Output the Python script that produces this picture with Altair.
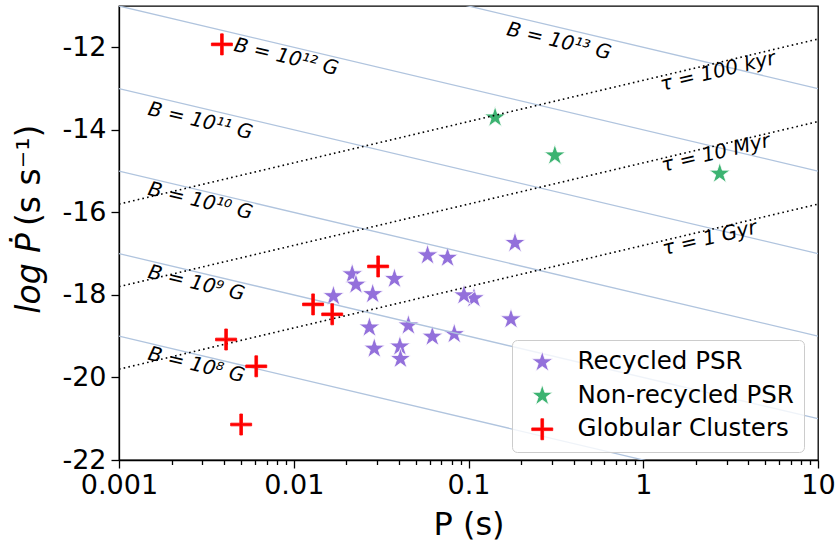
import math
import altair as alt
import pandas as pd

# ---- pulsar samples: spin period P (s) and log10 of Pdot (s/s) ----
rec_P = [0.1845, 0.0583, 0.0759, 0.0216, 0.0227, 0.0377, 0.01687, 0.0283, 0.1075,
         0.0942, 0.175, 0.0271, 0.0453, 0.0621, 0.0829, 0.0289, 0.0405, 0.0408]
rec_L = [-16.74, -17.04, -17.10, -17.50, -17.75, -17.61, -18.03, -17.98, -18.08,
         -18.01, -18.59, -18.79, -18.74, -19.01, -18.95, -19.30, -19.25, -19.55]

nonrec_P = [0.142, 0.312, 2.74]
nonrec_L = [-13.70, -14.62, -15.06]

gc_P = [0.00388, 0.0304, 0.0129, 0.0166, 0.0041, 0.0061, 0.0050]
gc_L = [-11.93, -17.31, -18.23, -18.47, -19.08, -19.73, -21.14]

groups = ["Recycled PSR", "Non-recycled PSR", "Globular Clusters"]
fills = ["#9370DB", "#3CB371", "#FF0000"]
strokes = ["#FFFFFF", "#FFFFFF", "#FF0000"]

# ---- reference lines: constant field B and constant characteristic age ----
B_exp = [8, 9, 10, 11, 12, 13]
tau_years = [1e5, 1e7, 1e9]
tau_names = ["100 kyr", "10 Myr", "1 Gyr"]
P_ends = [0.001, 10.0]
YEAR = 3.156e7

# label anchor points (centre of each text)
B_lab_P = [0.00277, 0.00277, 0.00292, 0.00292, 0.00905, 0.329]
B_lab_L = [-19.70, -17.72, -15.73, -13.79, -12.24, -11.86]
tau_lab_P = [2.67, 2.60, 2.40]
tau_lab_L = [-12.59, -14.57, -16.63]

SUP = str.maketrans("0123456789-", "⁰¹²³⁴⁵⁶⁷⁸⁹⁻")

STAR = ("M0,-1.32L0.296,-0.408L1.255,-0.408L0.480,0.156L0.776,1.068L0,0.504"
        "L-0.776,1.068L-0.480,0.156L-1.255,-0.408L-0.296,-0.408Z")
PLUS = ("M-1.25,-0.16L-0.16,-0.16L-0.16,-1.25L0.16,-1.25L0.16,-0.16L1.25,-0.16"
        "L1.25,0.16L0.16,0.16L0.16,1.25L-0.16,1.25L-0.16,0.16L-1.25,0.16Z")

FONT = "DejaVu Sans"

# ---- tables ----
stars = pd.DataFrame(
    [{"P": p, "L": l, "group": groups[0]} for p, l in zip(rec_P, rec_L)]
    + [{"P": p, "L": l, "group": groups[1]} for p, l in zip(nonrec_P, nonrec_L)]
)
clusters = pd.DataFrame([{"P": p, "L": l, "group": groups[2]} for p, l in zip(gc_P, gc_L)])

b_rows, t_rows = [], []
for e in B_exp:
    for p in P_ends:
        b_rows.append({"id": f"B{e}", "P": p, "L": 2 * e - 38 - math.log10(p)})
for ty in tau_years:
    for p in P_ends:
        t_rows.append({"id": f"t{ty}", "P": p, "L": math.log10(p) - math.log10(2 * ty * YEAR)})
b_lines = pd.DataFrame(b_rows)
t_lines = pd.DataFrame(t_rows)

b_labels = pd.DataFrame({
    "P": B_lab_P, "L": B_lab_L,
    "text": [f"B = 10{str(e).translate(SUP)} G" for e in B_exp],
})
t_labels = pd.DataFrame({
    "P": tau_lab_P, "L": tau_lab_L,
    "text": [f"τ = {n}" for n in tau_names],
})

# ---- scales and axes ----
x_ticks = []
for k in range(-3, 1):
    for m in range(1, 10):
        x_ticks.append(round(m * 10 ** k, 6))
x_ticks.append(10.0)

is_decade = "abs(log(datum.value)/LN10 - round(log(datum.value)/LN10)) < 0.001"

x_axis = alt.Axis(
    values=x_ticks,
    labelExpr=f"{is_decade} ? format(datum.value, '~g') : ''",
    tickSize={"condition": {"test": is_decade, "value": 8}, "value": 4.5},
    labelOverlap=False, labelFlush=False, grid=False,
    labelFont=FONT, labelFontSize=27, labelColor="black", labelPadding=4,
    tickColor="black", tickWidth=1.3, domainColor="black", domainWidth=1.3,
    title="P (s)", titleFont=FONT, titleFontSize=32, titleFontWeight="normal",
    titleColor="black", titlePadding=11,
)
y_axis = alt.Axis(
    values=[-22, -20, -18, -16, -14, -12],
    labelExpr="datum.value < 0 ? '-' + format(-datum.value, 'd') : format(datum.value, 'd')",
    tickSize=8, grid=False,
    labelFont=FONT, labelFontSize=27, labelColor="black", labelPadding=5,
    tickColor="black", tickWidth=1.3, domainColor="black", domainWidth=1.3,
    title=None,
)
x_enc = alt.X("P:Q", scale=alt.Scale(type="log", domain=[0.001, 10], nice=False), axis=x_axis)
y_enc = alt.Y("L:Q", scale=alt.Scale(domain=[-22, -11], nice=False, zero=False), axis=y_axis)

legend = alt.Legend(
    title=None, orient="none", legendX=393, legendY=334,
    labelFont=FONT, labelFontSize=24.5, labelColor="black", labelOffset=23,
    labelLimit=400, symbolSize=283, symbolStrokeWidth=0.8, symbolOffset=8,
    rowPadding=8.5, padding=10, fillColor="rgba(255,255,255,0.8)",
    strokeColor="#CCCCCC", cornerRadius=5,
)
fill_enc = alt.Fill("group:N", scale=alt.Scale(domain=groups, range=fills), legend=legend)
stroke_enc = alt.Stroke("group:N", scale=alt.Scale(domain=groups, range=strokes), legend=legend)
shape_enc = alt.Shape("group:N", scale=alt.Scale(domain=groups, range=[STAR, STAR, PLUS]), legend=legend)

# ---- layers ----
star_layer = alt.Chart(stars).mark_point(
    filled=True, size=283, strokeWidth=0.8, opacity=1
).encode(x=x_enc, y=y_enc, fill=fill_enc, stroke=stroke_enc, shape=shape_enc)

b_layer = alt.Chart(b_lines).mark_line(
    clip=True, color="#B0C4DE", strokeWidth=1.3
).encode(x=x_enc, y=y_enc, detail="id:N")

t_layer = alt.Chart(t_lines).mark_line(
    clip=True, color="black", strokeWidth=1.6, strokeDash=[1.6, 3.2]
).encode(x=x_enc, y=y_enc, detail="id:N")

gc_layer = alt.Chart(clusters).mark_point(
    filled=True, size=283, strokeWidth=0.8, opacity=1
).encode(x=x_enc, y=y_enc, fill=fill_enc, stroke=stroke_enc, shape=shape_enc)

b_text = alt.Chart(b_labels).mark_text(
    angle=13.3, font=FONT, fontSize=20, fontStyle="italic", color="black",
    align="center", baseline="middle"
).encode(x=x_enc, y=y_enc, text="text:N")

t_text = alt.Chart(t_labels).mark_text(
    angle=346.7, font=FONT, fontSize=20, fontStyle="italic", color="black",
    align="center", baseline="middle"
).encode(x=x_enc, y=y_enc, text="text:N")

# y-axis title: italic quantity followed by upright units
ytitle_a = alt.Chart(pd.DataFrame({"t": ["log Ṗ"]})).mark_text(
    angle=270, font=FONT, fontSize=33, fontStyle="italic", color="black",
    align="right", baseline="middle"
).encode(x=alt.value(-89), y=alt.value(227), text="t:N")
ytitle_b = alt.Chart(pd.DataFrame({"t": ["(s s⁻¹)"]})).mark_text(
    angle=270, font=FONT, fontSize=33, color="black",
    align="left", baseline="middle"
).encode(x=alt.value(-89), y=alt.value(220), text="t:N")

chart = alt.layer(
    star_layer, b_layer, t_layer, gc_layer, b_text, t_text, ytitle_a, ytitle_b
).properties(
    width=699, height=454,
    autosize=alt.AutoSizeParams(type="none"),
    padding={"left": 119, "top": 6, "right": 20, "bottom": 85},
    background="white",
).configure_view(
    stroke="black", strokeWidth=1.3
)

chart.save("out.html", embed_options={"renderer": "svg", "actions": False})
